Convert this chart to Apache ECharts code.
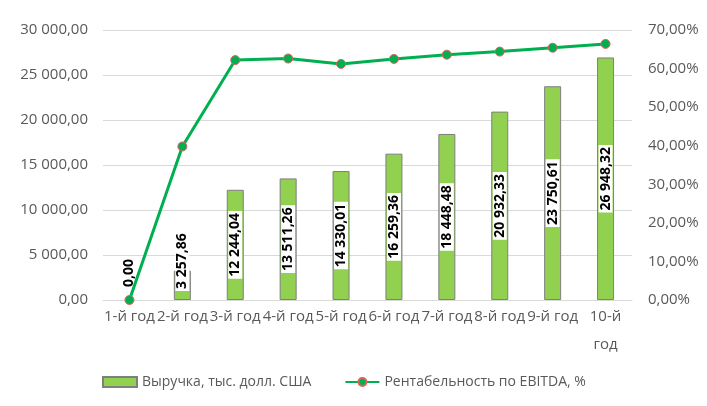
<!DOCTYPE html>
<html>
<head>
<meta charset="utf-8">
<script src="https://cdn.jsdelivr.net/npm/echarts@6/dist/echarts.min.js"></script>
<style>
  html, body { margin: 0; padding: 0; background: #fff; }
  #chart { width: 707px; height: 406px; }
</style>
</head>
<body>
<div id="chart"></div>
<script>
  var years = ['1-й год', '2-й год', '3-й год', '4-й год', '5-й год', '6-й год', '7-й год', '8-й год', '9-й год', '10-й\nгод']
  var revenue = [0, 3257.86, 12244.04, 13511.26, 14330.01, 16259.36, 18448.48, 20932.33, 23750.61, 26948.32]
  var ebitdaMargin = [0, 0.398, 0.622, 0.626, 0.612, 0.625, 0.636, 0.644, 0.654, 0.664]
  var revenueName = 'Выручка, тыс. долл. США'
  var marginName = 'Рентабельность по EBITDA, %'

  function fmtNum (v) {
    var parts = v.toFixed(2).split('.')
    return parts[0].replace(/\B(?=(\d{3})+(?!\d))/g, ' ') + ',' + parts[1]
  }

  var font = '"Open Sans", "Noto Sans", sans-serif'

  // small bars get their label pushed up like in Excel
  var barData = revenue.map(function (v) {
    if (v === 0) {
      return { value: v, itemStyle: { borderWidth: 0 }, label: { position: 'top', align: 'left', verticalAlign: 'middle', distance: 11 } }
    }
    if (v < 5000) {
      return { value: v, label: { position: 'insideBottom', align: 'left', verticalAlign: 'middle', distance: 9 } }
    }
    return v
  })

  var chart = echarts.init(document.getElementById('chart'))
  chart.setOption({
    animation: false,
    textStyle: { fontFamily: font },
    grid: { left: 103, right: 75, top: 30, bottom: 106 },
    legend: {
      bottom: 12,
      left: 97,
      itemGap: 33,
      itemWidth: 34,
      itemHeight: 10,
      textStyle: { color: '#595959', fontSize: 14, fontFamily: font },
      data: [
        { name: revenueName, icon: 'rect' },
        { name: marginName }
      ]
    },
    xAxis: {
      type: 'category',
      data: years,
      axisLine: { lineStyle: { color: '#d9d9d9' } },
      axisTick: { show: false },
      axisLabel: { interval: 0, color: '#595959', fontSize: 15, margin: 3, lineHeight: 28 }
    },
    yAxis: [
      {
        type: 'value',
        min: 0,
        max: 30000,
        interval: 5000,
        axisLine: { show: false },
        axisTick: { show: false },
        splitLine: { lineStyle: { color: '#d9d9d9' } },
        axisLabel: { color: '#595959', fontSize: 15, margin: 15, formatter: fmtNum }
      },
      {
        type: 'value',
        min: 0,
        max: 0.7,
        interval: 0.1,
        axisLine: { show: false },
        axisTick: { show: false },
        splitLine: { show: false },
        axisLabel: {
          color: '#595959',
          fontSize: 15,
          margin: 16,
          formatter: function (v) { return (v * 100).toFixed(2).replace('.', ',') + '%' }
        }
      }
    ],
    series: [
      {
        name: revenueName,
        type: 'bar',
        barWidth: 17,
        data: barData,
        itemStyle: { color: '#92d050', borderColor: '#7f7f7f', borderWidth: 1 },
        label: {
          show: true,
          position: 'inside',
          rotate: 90,
          color: '#000',
          fontWeight: 'bold',
          fontSize: 14,
          backgroundColor: '#fff',
          padding: [0, 2],
          formatter: function (p) { return fmtNum(p.value) }
        }
      },
      {
        name: marginName,
        type: 'line',
        yAxisIndex: 1,
        data: ebitdaMargin,
        symbol: 'circle',
        symbolSize: 9,
        lineStyle: { color: '#00b050', width: 3 },
        itemStyle: { color: '#00b050', borderColor: '#e06060', borderWidth: 1 },
        z: 5
      }
    ]
  })
</script>
</body>
</html>
